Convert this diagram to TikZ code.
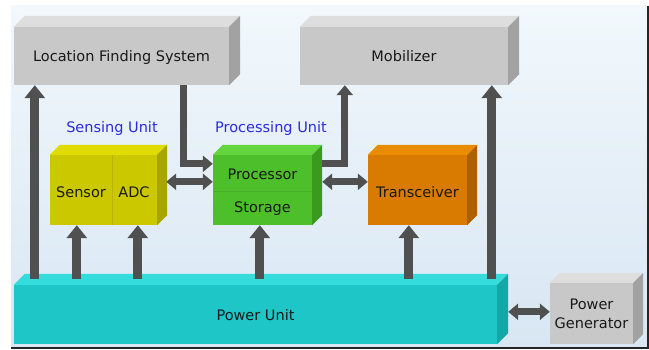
\documentclass[tikz,border=0pt]{standalone}
\usepackage{fontspec}
\setmainfont{DejaVu Sans}
\usetikzlibrary{arrows.meta,calc}

\definecolor{bgtop}{HTML}{F2F8FC}
\definecolor{bgbot}{HTML}{D8E6F3}
\definecolor{arrowgray}{HTML}{505050}
\definecolor{grayfront}{HTML}{C8C8C8}
\definecolor{graytop}{HTML}{DEDEDE}
\definecolor{grayside}{HTML}{A2A2A2}
\definecolor{yelfront}{HTML}{CCC800}
\definecolor{yeltop}{HTML}{E0DC00}
\definecolor{yelside}{HTML}{A8A400}
\definecolor{grnfront}{HTML}{4CBF2A}
\definecolor{grntop}{HTML}{62D63C}
\definecolor{grnside}{HTML}{3A9A1E}
\definecolor{orgfront}{HTML}{D97B00}
\definecolor{orgtop}{HTML}{EA8C00}
\definecolor{orgside}{HTML}{AE6000}
\definecolor{cyanfront}{HTML}{1FC6C8}
\definecolor{cyantop}{HTML}{34DCDC}
\definecolor{cyanside}{HTML}{13A8A8}
\definecolor{unitblue}{HTML}{2B2BDD}

% top and right faces of a solid block whose front face is the node #1
\newcommand\blockfaces[4]{%
  \fill[#2] (#1.north west) -- ++(#4,-#4) -- ($(#1.north east)+(#4,-#4)$) -- (#1.north east) -- cycle;
  \fill[#3] (#1.north east) -- ++(#4,-#4) -- ($(#1.south east)+(#4,-#4)$) -- (#1.south east) -- cycle;
}

\tikzset{
  txt/.style={font=\fontsize{14.5}{17}\selectfont, text=black!90},
  front/.style={txt, inner sep=0pt, minimum width=#1},
  unitlabel/.style={font=\fontsize{14.5}{17}\selectfont, text=unitblue, inner sep=0pt},
  bigarrow/.style={draw=arrowgray, line width=9pt, -{Triangle[width=20pt,length=13pt]}},
  smallarrow/.style={draw=arrowgray, line width=7pt, -{Triangle[width=16pt,length=10pt]}},
  dblarrow/.style={draw=arrowgray, line width=7pt, {Triangle[width=16pt,length=10pt]}-{Triangle[width=16pt,length=10pt]}},
}

\begin{document}
\begin{tikzpicture}[x=1pt,y=-1pt]
  \useasboundingbox (0,0) rectangle (649,350);
  \fill[white] (0,0) rectangle (649,350);
  \shade[top color=bgtop, bottom color=bgbot] (11,6) rectangle (647,347);
  \draw[line width=2pt, black!85] (647.5,6) -- (647.5,349) (11,348.5) -- (649,348.5);

  % blocks
  \node[front=215pt, minimum height=58pt, fill=grayfront, text depth=-3pt] (lfs) at (121.5,56) {Location Finding System};
  \blockfaces{lfs}{graytop}{grayside}{11}
  \node[front=208pt, minimum height=58pt, fill=grayfront, text depth=-3pt] (mob) at (404,56) {Mobilizer};
  \blockfaces{mob}{graytop}{grayside}{11}

  \node[front=107pt, minimum height=70pt, fill=yelfront] (sens) at (103.5,190) {};
  \blockfaces{sens}{yeltop}{yelside}{10}
  \draw[yelside!50!yelfront, line width=0.7pt] ($(sens.north west)+(63,0)$) -- ($(sens.south west)+(63,0)$);
  \node[txt] (sensor) at (81,192) {Sensor};
  \node[txt] (adc) at (134,192) {ADC};

  \node[front=99pt, minimum height=70pt, fill=grnfront] (proc) at (262.5,190) {};
  \blockfaces{proc}{grntop}{grnside}{10}
  \draw[grnside!40!grnfront, line width=0.7pt] ($(proc.north west)+(0,37)$) -- ($(proc.north east)+(0,37)$);
  \node[txt] (processor) at (262.5,174) {Processor};
  \node[txt] (storage) at (262.5,209) {Storage};

  \node[front=99pt, minimum height=70pt, fill=orgfront] (trx) at (417.5,190) {};
  \blockfaces{trx}{orgtop}{orgside}{10}
  \node[txt] (trxlbl) at (417.5,192) {Transceiver};

  \node[front=483pt, minimum height=59pt, fill=cyanfront, text depth=-3pt] (pwr) at (255.5,314.5) {Power Unit};
  \blockfaces{pwr}{cyantop}{cyanside}{11}

  \node[front=83pt, minimum height=61pt, fill=grayfront, align=center] (gen) at (591.5,313.5) {Power\\[2pt]Generator};
  \blockfaces{gen}{graytop}{grayside}{10}

  \node[unitlabel] (senslbl) at (112,129) {Sensing Unit};
  \node[unitlabel] (proclbl) at (271,129) {Processing Unit};

  % connectors
  \draw[bigarrow] ($(pwr.north west)+(21,-6)$) -- ($(lfs.south west)+(21,0)$);
  \draw[bigarrow] ($(pwr.north west)+(63,-6)$) -- ($(sens.south west)+(27,0)$);
  \draw[bigarrow] ($(pwr.north west)+(124,-6)$) -- ($(sens.south west)+(88,0)$);
  \draw[bigarrow] ($(pwr.north west)+(246,-6)$) -- ($(proc.south west)+(47,0)$);
  \draw[bigarrow] ($(pwr.north west)+(395,-6)$) -- ($(trx.south west)+(41,0)$);
  \draw[bigarrow] ($(pwr.north west)+(478,-6)$) -- ($(mob.south west)+(192,0)$);

  \draw[smallarrow] ($(lfs.south west)+(170,0)$) |- ($(proc.north west)+(0,9)$);
  \draw[smallarrow] ($(proc.north east)+(10,9)$) -| ($(mob.south west)+(45,0)$);

  \draw[dblarrow] ($(sens.north east)+(9,27)$) -- ($(proc.north west)+(0,27)$);
  \draw[dblarrow] ($(proc.north east)+(10,27)$) -- ($(trx.north west)+(0,27)$);
  \draw[dblarrow] ($(pwr.north east)+(11,27)$) -- ($(gen.north west)+(0,29)$);
\end{tikzpicture}
\end{document}
